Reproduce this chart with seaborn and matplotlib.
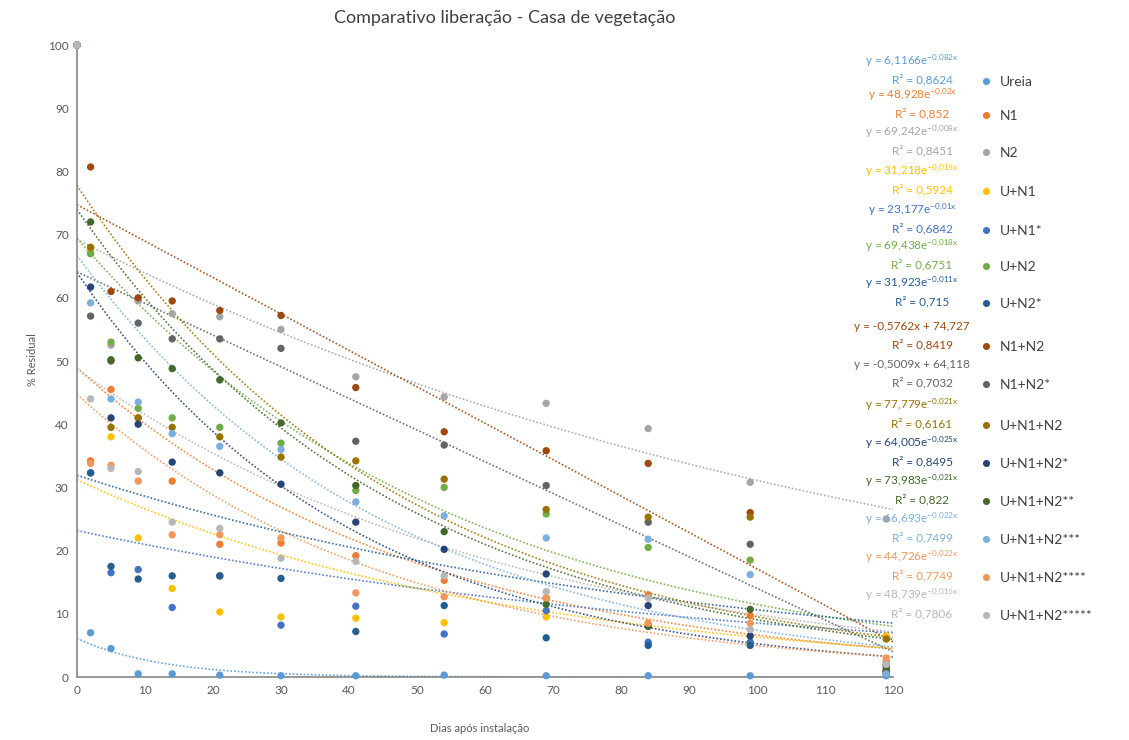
import numpy as np
import pandas as pd
import matplotlib
matplotlib.use("Agg")
import matplotlib.pyplot as plt
import seaborn as sns

# ---------------- data ----------------
dias = [0, 2, 5, 9, 14, 21, 30, 41, 54, 69, 84, 99, 119]

series = ["Ureia", "N1", "N2", "U+N1", "U+N1*", "U+N2", "U+N2*", "N1+N2", "N1+N2*",
          "U+N1+N2", "U+N1+N2*", "U+N1+N2**", "U+N1+N2***", "U+N1+N2****", "U+N1+N2*****"]

colors = ["#5B9BD5", "#ED7D31", "#A5A5A5", "#FFC000", "#4472C4", "#70AD47", "#255E91",
          "#9E480E", "#636363", "#997300", "#264478", "#43682B", "#7CAFDD", "#F1975A", "#B7B7B7"]

ureia      = [100, 7.0, 4.5, 0.5, 0.5, 0.3, 0.2, 0.2, 0.3, 0.2, 0.2, 0.2, 0.2]
n1         = [100, 34.2, 45.5, 41.0, 31.0, 21.0, 21.2, 19.2, 15.3, 12.5, 13.0, 9.7, 2.5]
n2         = [100, 67.0, 52.5, 59.5, 57.5, 57.0, 55.0, 47.5, 44.3, 43.3, 39.3, 30.8, 25.0]
u_n1       = [100, 67.5, 38.0, 22.0, 14.0, 10.3, 9.5, 9.3, 8.6, 9.5, 8.5, 5.5, 6.5]
u_n1s      = [100, 32.3, 16.5, 17.0, 11.0, 16.0, 8.2, 11.2, 6.8, 10.5, 5.5, 5.5, 1.0]
u_n2       = [100, 67.0, 53.0, 42.5, 41.0, 39.5, 37.0, 29.5, 30.0, 25.8, 20.5, 18.5, 1.8]
u_n2s      = [100, 32.3, 17.5, 15.5, 16.0, 16.0, 15.6, 7.2, 11.3, 6.2, 5.0, 5.0, 0.8]
n1_n2      = [100, 80.7, 61.0, 60.0, 59.5, 58.0, 57.2, 45.8, 38.8, 35.8, 33.8, 26.0, 1.0]
n1_n2s     = [100, 57.1, 50.0, 56.0, 53.5, 53.5, 52.0, 37.3, 36.7, 30.3, 24.5, 21.0, 2.0]
u_n1_n2    = [100, 68.0, 39.5, 41.0, 39.5, 38.0, 34.8, 34.2, 31.3, 26.5, 25.3, 25.3, 6.0]
u_n1_n2_1  = [100, 61.7, 41.0, 40.0, 34.0, 32.3, 30.5, 24.5, 20.2, 16.3, 11.3, 6.5, 0.5]
u_n1_n2_2  = [100, 72.0, 50.2, 50.5, 48.8, 47.0, 40.2, 30.3, 23.0, 11.5, 8.0, 10.7, 1.5]
u_n1_n2_3  = [100, 59.2, 44.0, 43.5, 38.5, 36.5, 36.0, 27.7, 25.5, 22.0, 21.8, 16.2, 0.5]
u_n1_n2_4  = [100, 33.8, 33.5, 31.0, 22.5, 22.5, 22.0, 13.3, 12.7, 12.5, 8.5, 8.5, 3.0]
u_n1_n2_5  = [100, 44.0, 33.0, 32.5, 24.5, 23.5, 18.8, 18.3, 16.0, 13.5, 12.5, 7.5, 2.0]

values = [ureia, n1, n2, u_n1, u_n1s, u_n2, u_n2s, n1_n2, n1_n2s,
          u_n1_n2, u_n1_n2_1, u_n1_n2_2, u_n1_n2_3, u_n1_n2_4, u_n1_n2_5]

# trendline coefficients (as printed on the chart)
trend_kind = ["exp", "exp", "exp", "exp", "exp", "exp", "exp", "lin", "lin",
              "exp", "exp", "exp", "exp", "exp", "exp"]
trend_a = [6.1166, 48.928, 69.242, 31.218, 23.177, 69.438, 31.923, -0.5762, -0.5009,
           77.779, 64.005, 73.983, 66.693, 44.726, 48.739]
trend_b = [-0.082, -0.02, -0.008, -0.016, -0.01, -0.018, -0.011, 74.727, 64.118,
           -0.021, -0.025, -0.021, -0.022, -0.022, -0.016]
r2 = ["0,8624", "0,852", "0,8451", "0,5924", "0,6842", "0,6751", "0,715", "0,8419", "0,7032",
      "0,6161", "0,8495", "0,822", "0,7499", "0,7749", "0,7806"]

x_ticks = list(range(0, 121, 10))
y_ticks = list(range(0, 101, 10))

# ---------------- figure ----------------
sns.set_theme(style="white")
plt.rcParams["font.family"] = ["Lato", "DejaVu Sans"]
plt.rcParams["mathtext.fontset"] = "custom"
plt.rcParams["mathtext.rm"] = "Lato"
plt.rcParams["mathtext.it"] = "Lato"
plt.rcParams["mathtext.default"] = "regular"

W, H = 1129, 740
fig = plt.figure(figsize=(W / 100, H / 100), dpi=100)
ax = fig.add_axes([77 / W, 1 - 677 / H, (893 - 77) / W, (677 - 45) / H])

df = pd.DataFrame({
    "dia": np.tile(dias, len(series)),
    "residual": np.concatenate(values),
    "serie": np.repeat(series, len(dias)),
})

# trendlines
xs = np.linspace(0, 120, 300)
for name, col, kind, a, b in zip(series, colors, trend_kind, trend_a, trend_b):
    ys = a * np.exp(b * xs) if kind == "exp" else a * xs + b
    ax.plot(xs, ys, color=col, lw=1.2, ls=(0, (1, 1.2)), alpha=0.9, zorder=2)

sns.scatterplot(data=df, x="dia", y="residual", hue="serie", hue_order=series,
                palette=colors, s=28, linewidth=0, legend=False, ax=ax, zorder=3)

ax.set_xlim(0, 120)
ax.set_ylim(0, 100)
ax.set_xticks(x_ticks)
ax.set_yticks(y_ticks)
ax.tick_params(axis="both", length=0, labelsize=8.5, colors="#595959", pad=6)
for s in ["top", "right"]:
    ax.spines[s].set_visible(False)
for s in ["left", "bottom"]:
    ax.spines[s].set_color("#868686")
    ax.spines[s].set_linewidth(1.2)
ax.set_xlabel("")
ax.set_ylabel("")
for coll in ax.collections:
    coll.set_clip_on(False)

fig.text(505 / W, 1 - 18 / H, "Comparativo liberação - Casa de vegetação",
         ha="center", va="center", fontsize=13, color="#404040")
fig.text(480 / W, 1 - 729 / H, "Dias após instalação", ha="center", va="center",
         fontsize=8, color="#595959")
fig.text(33 / W, 1 - 360 / H, "% Residual", ha="center", va="center",
         rotation=90, fontsize=8, color="#595959")

# legend with equations
ov = fig.add_axes([0, 0, 1, 1], facecolor="none")
ov.set_xlim(0, W)
ov.set_ylim(H, 0)
ov.axis("off")


def fmt(v):
    return f"{v:g}".replace(".", ",")


label_y = [87, 121, 158, 197, 236, 272, 309, 352, 390, 431, 469, 507, 545, 583, 621]
for name, col, kind, a, b, r, ly in zip(series, colors, trend_kind, trend_a, trend_b, r2, label_y):
    if kind == "exp":
        eq = "y = " + fmt(a) + "e$^{" + fmt(b).replace(",", "{,}") + "x}$"
    else:
        eq = "y = " + fmt(a) + "x + " + fmt(b)
    ov.text(912, ly - 26, eq, ha="center", va="center", fontsize=8.5, color=col)
    ov.text(922, ly - 7, f"R² = {r}", ha="center", va="center", fontsize=8.5, color=col)
    ov.scatter([986], [ly - 6], s=26, color=col, linewidth=0)
    ov.text(1000, ly - 5, name, ha="left", va="center", fontsize=10, color="#404040")

fig.savefig("out.png", dpi=100, facecolor="white")
